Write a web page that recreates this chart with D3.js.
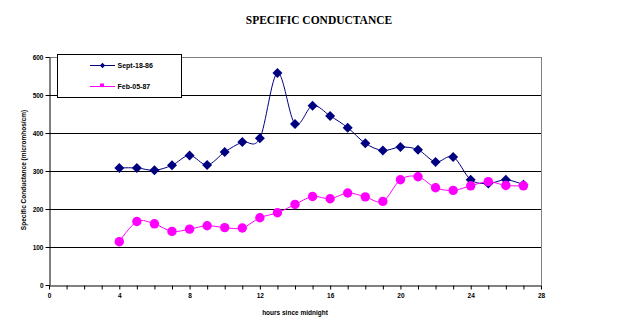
<!DOCTYPE html>
<html>
<head>
<meta charset="utf-8">
<script src="https://cdn.jsdelivr.net/npm/d3@7"></script>
<style>
body { margin: 0; background: #fff; }
svg { display: block; }
</style>
</head>
<body>
<svg width="636" height="329"></svg>
<script>
var hours = [4, 5, 6, 7, 8, 9, 10, 11, 12, 13, 14, 15, 16, 17, 18, 19, 20, 21, 22, 23, 24, 25, 26, 27];
var sept = [308, 308, 302, 315, 341, 316, 350, 376, 386, 558, 424, 472, 445, 414, 373, 354, 363, 356, 324, 337, 277, 267, 277, 264];
var feb = [114, 167, 161, 141, 147, 156, 151, 150, 177, 190, 212, 233, 227, 242, 232, 220, 277, 285, 256, 249, 261, 272, 262, 261];
var xTicks = [0, 4, 8, 12, 16, 20, 24, 28];
var yTicks = [0, 100, 200, 300, 400, 500, 600];

var svg = d3.select("svg"),
    plotLeft = 49, plotRight = 541, plotTop = 57, plotBottom = 285;

var x = d3.scaleLinear().domain([0, 28]).range([plotLeft, plotRight]);
var y = d3.scaleLinear().domain([0, 600]).range([plotBottom, plotTop]);

var small = "'Liberation Sans', Arial, sans-serif";

// title
svg.append("text")
    .attr("x", 319).attr("y", 24)
    .attr("text-anchor", "middle")
    .attr("font-family", "'Liberation Serif', 'Times New Roman', serif")
    .attr("font-weight", "bold")
    .attr("font-size", 11.5)
    .text("SPECIFIC CONDUCTANCE");

// grid lines
svg.append("g").selectAll("line")
    .data(yTicks.filter(function(d) { return d > 0; }))
    .enter().append("line")
    .attr("x1", plotLeft).attr("x2", plotRight)
    .attr("y1", function(d) { return Math.round(y(d)) + 0.5; })
    .attr("y2", function(d) { return Math.round(y(d)) + 0.5; })
    .attr("stroke", function(d) { return d == 600 ? "#808080" : "#000"; })
    .attr("stroke-width", 1);

// right border
svg.append("line")
    .attr("x1", plotRight + 0.5).attr("x2", plotRight + 0.5)
    .attr("y1", plotTop).attr("y2", plotBottom)
    .attr("stroke", "#808080");

// axes
var xAxis = svg.append("g")
    .attr("transform", "translate(0," + (plotBottom + 0.5) + ")")
    .call(d3.axisBottom(x).ticks(28).tickSizeOuter(0).tickSizeInner(4)
        .tickFormat(function(d) { return xTicks.indexOf(d) >= 0 ? d : ""; }));

var yAxis = svg.append("g")
    .attr("transform", "translate(" + (plotLeft + 0.5) + ",0)")
    .call(d3.axisLeft(y).tickValues(yTicks).tickSizeOuter(0).tickSizeInner(4).tickFormat(d3.format("d")));

[xAxis, yAxis].forEach(function(a) {
    a.select(".domain").attr("stroke", "#000");
    a.selectAll(".tick line").attr("stroke", "#000");
    a.selectAll("text")
        .attr("font-family", small)
        .attr("font-size", 6.5)
        .attr("font-weight", "bold")
        .attr("fill", "#000");
});
xAxis.selectAll("text").attr("y", 12).attr("dy", 0);
yAxis.selectAll("text").attr("x", -6).attr("dy", "0.35em");

// axis titles
svg.append("text")
    .attr("x", 295).attr("y", 315)
    .attr("text-anchor", "middle")
    .attr("font-family", small)
    .attr("font-size", 6.5)
    .attr("font-weight", "bold")
    .text("hours since midnight");

svg.append("text")
    .attr("transform", "translate(26,170) rotate(-90)")
    .attr("text-anchor", "middle")
    .attr("font-family", small)
    .attr("font-size", 6.5)
    .attr("font-weight", "bold")
    .text("Specific Conductance (micromhos/cm)");

// lines
var line = d3.line()
    .x(function(d) { return x(d[0]); })
    .y(function(d) { return y(d[1]); })
    .curve(d3.curveCatmullRom.alpha(0));

var series = [
    { name: "Sept-18-86", values: sept, color: "#000080", shape: "diamond" },
    { name: "Feb-05-87", values: feb, color: "#ff00ff", shape: "circle" }
];

series.forEach(function(s) {
    var pts = hours.map(function(h, i) { return [h, s.values[i]]; });
    svg.append("path")
        .datum(pts)
        .attr("d", line)
        .attr("fill", "none")
        .attr("stroke", s.color)
        .attr("stroke-width", 1);
});

// markers drawn after lines
series.forEach(function(s) {
    var g = svg.append("g");
    var pts = hours.map(function(h, i) { return [h, s.values[i]]; });
    if (s.shape == "diamond") {
        g.selectAll("path").data(pts).enter().append("path")
            .attr("d", d3.symbol().type(d3.symbolSquare).size(50))
            .attr("transform", function(d) { return "translate(" + x(d[0]) + "," + y(d[1]) + ") rotate(45)"; })
            .attr("fill", s.color);
    } else {
        g.selectAll("circle").data(pts).enter().append("circle")
            .attr("cx", function(d) { return x(d[0]); })
            .attr("cy", function(d) { return y(d[1]); })
            .attr("r", 4.7)
            .attr("fill", s.color);
    }
});

// legend
var legend = svg.append("g");
legend.append("rect")
    .attr("x", 57.5).attr("y", 54.5)
    .attr("width", 124).attr("height", 43)
    .attr("fill", "#fff")
    .attr("stroke", "#000");

series.forEach(function(s, i) {
    var ly = 65.5 + i * 21;
    legend.append("line")
        .attr("x1", 90).attr("x2", 115)
        .attr("y1", ly).attr("y2", ly)
        .attr("stroke", s.color);
    if (s.shape == "diamond") {
        legend.append("path")
            .attr("d", d3.symbol().type(d3.symbolSquare).size(14))
            .attr("transform", "translate(102.5," + ly + ") rotate(45)")
            .attr("fill", s.color);
    } else {
        legend.append("rect")
            .attr("x", 100).attr("y", ly - 3)
            .attr("width", 4).attr("height", 3)
            .attr("fill", s.color);
    }
    legend.append("text")
        .attr("x", 117.5).attr("y", ly)
        .attr("dy", "0.35em")
        .attr("font-family", small)
        .attr("font-size", 7)
        .attr("font-weight", "bold")
        .text(s.name);
});
</script>
</body>
</html>
